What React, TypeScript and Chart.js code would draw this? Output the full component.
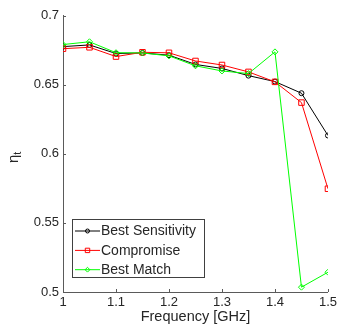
import React, { useEffect, useRef } from 'react';
import { Chart, registerables } from 'chart.js';

Chart.register(...registerables);

const frequencies = [1, 1.05, 1.1, 1.15, 1.2, 1.25, 1.3, 1.35, 1.4, 1.45, 1.5];
const bestSensitivity = [0.6775, 0.6787, 0.6725, 0.6729, 0.6713, 0.6646, 0.6617, 0.6565, 0.6522, 0.6438, 0.6132];
const compromise = [0.676, 0.677, 0.6703, 0.6734, 0.673, 0.6671, 0.6642, 0.6592, 0.652, 0.637, 0.5747];
const bestMatch = [0.679, 0.681, 0.6731, 0.6729, 0.6708, 0.6636, 0.6599, 0.658, 0.6737, 0.5035, 0.5143];
const xTickValues = [1, 1.1, 1.2, 1.3, 1.4, 1.5];
const yTickValues = [0.5, 0.55, 0.6, 0.65, 0.7];
const seriesNames = ['Best Sensitivity', 'Compromise', 'Best Match'];
const seriesColors = ['#000000', '#ff0000', '#00ff00'];
const seriesMarkers = ['circle', 'rect', 'rectRot'];
const xTitle = 'Frequency [GHz]';

const FONT = '"Liberation Sans", Arial, Helvetica, sans-serif';
const TEXT = '#262626';
const AXIS = '#5a5a5a';

const markerRadius: Record<string, number> = { circle: 2.5, rect: 3.9, rectRot: 3 };

function drawMarker(ctx: CanvasRenderingContext2D, style: string, x: number, y: number, r: number) {
  ctx.beginPath();
  if (style === 'circle') {
    ctx.arc(x, y, r, 0, Math.PI * 2);
  } else if (style === 'rect') {
    const s = Math.SQRT1_2 * r;
    ctx.rect(x - s, y - s, 2 * s, 2 * s);
  } else {
    ctx.moveTo(x - r, y);
    ctx.lineTo(x, y - r);
    ctx.lineTo(x + r, y);
    ctx.lineTo(x, y + r);
    ctx.closePath();
  }
  ctx.stroke();
}

const decorPlugin = {
  id: 'decor',
  afterDraw(chart: any) {
    const ctx = chart.ctx as CanvasRenderingContext2D;
    const area = chart.chartArea;
    const xs = chart.scales.x;
    const ys = chart.scales.y;
    ctx.save();
    // inward ticks
    ctx.strokeStyle = AXIS;
    ctx.lineWidth = 1;
    ctx.beginPath();
    xTickValues.forEach((v) => {
      const px = Math.round(xs.getPixelForValue(v)) + 0.5;
      ctx.moveTo(px, area.bottom);
      ctx.lineTo(px, area.bottom - 3);
    });
    yTickValues.forEach((v) => {
      const py = Math.round(ys.getPixelForValue(v)) + 0.5;
      ctx.moveTo(area.left, py);
      ctx.lineTo(area.left + 3, py);
    });
    ctx.stroke();

    // x title
    ctx.fillStyle = TEXT;
    ctx.font = `14.5px ${FONT}`;
    ctx.textAlign = 'center';
    ctx.textBaseline = 'alphabetic';
    ctx.fillText(xTitle, (area.left + area.right) / 2, 321);

    // y title eta_t
    ctx.save();
    ctx.translate(18, 163);
    ctx.rotate(-Math.PI / 2);
    ctx.textAlign = 'left';
    ctx.font = `15px ${FONT}`;
    ctx.fillText('η', 0, 0);
    const w = ctx.measureText('η').width;
    ctx.font = `11px ${FONT}`;
    ctx.fillText('t', w, 3);
    ctx.restore();

    // legend
    const bx = 72.5, by = 219.5, bw = 132, bh = 58;
    ctx.fillStyle = '#ffffff';
    ctx.fillRect(bx, by, bw, bh);
    ctx.strokeStyle = '#404040';
    ctx.lineWidth = 1;
    ctx.strokeRect(bx, by, bw, bh);
    const rows = [231, 250.4, 269.7];
    chart.data.datasets.forEach((ds: any, i: number) => {
      const y = rows[i];
      ctx.strokeStyle = ds.borderColor;
      ctx.lineWidth = 1;
      ctx.beginPath();
      ctx.moveTo(75, y);
      ctx.lineTo(100, y);
      ctx.stroke();
      drawMarker(ctx, ds.pointStyle, 87.5, y, markerRadius[ds.pointStyle] * 0.8);
      ctx.fillStyle = TEXT;
      ctx.font = `14px ${FONT}`;
      ctx.textAlign = 'left';
      ctx.textBaseline = 'middle';
      ctx.fillText(ds.label, 101, y + 0.5);
    });
    ctx.restore();
  },
};

export default function App() {
  const ref = useRef<HTMLCanvasElement | null>(null);
  useEffect(() => {
    document.body.style.margin = '0';
    const seriesValues = [bestSensitivity, compromise, bestMatch];
    const chart = new Chart(ref.current as HTMLCanvasElement, {
      type: 'line',
      data: {
        datasets: seriesValues.map((vals, i) => ({
          label: seriesNames[i],
          data: frequencies.map((f, j) => ({ x: f, y: vals[j] })),
          borderColor: seriesColors[i],
          backgroundColor: 'rgba(0,0,0,0)',
          borderWidth: 1,
          pointStyle: seriesMarkers[i] as any,
          pointRadius: markerRadius[seriesMarkers[i]],
          pointBorderWidth: 1,
          pointBorderColor: seriesColors[i],
          pointBackgroundColor: 'rgba(0,0,0,0)',
          tension: 0,
          order: 3 - i,
        })),
      },
      options: {
        animation: false,
        responsive: false,
        layout: { padding: { top: 15.5, right: 9, left: 0, bottom: 0 } },
        plugins: { legend: { display: false }, tooltip: { enabled: false } },
        scales: {
          x: {
            type: 'linear',
            min: 1,
            max: 1.5,
            afterFit: (s: any) => { s.height = 37; },
            afterBuildTicks: (s: any) => { s.ticks = xTickValues.map((v) => ({ value: v })); },
            grid: { display: false, drawTicks: false },
            border: { display: true, color: AXIS, width: 1 },
            ticks: {
              padding: 3,
              color: TEXT,
              font: { family: FONT, size: 13 },
              maxRotation: 0,
              callback: (v: any) => String(Number(Number(v).toFixed(3))),
            },
          },
          y: {
            type: 'linear',
            min: 0.5,
            max: 0.7,
            afterFit: (s: any) => { s.width = 63; },
            afterBuildTicks: (s: any) => { s.ticks = yTickValues.map((v) => ({ value: v })); },
            grid: { display: false, drawTicks: false },
            border: { display: true, color: AXIS, width: 1 },
            ticks: {
              padding: 4,
              color: TEXT,
              font: { family: FONT, size: 13 },
              callback: (v: any) => String(Number(Number(v).toFixed(3))),
            },
          },
        },
      },
      plugins: [decorPlugin],
    });
    return () => chart.destroy();
  }, []);
  return (
    <div style={{ position: 'absolute', left: 0, top: 0, width: 340, height: 329, background: '#fff' }}>
      <canvas ref={ref} width={340} height={329} />
    </div>
  );
}
